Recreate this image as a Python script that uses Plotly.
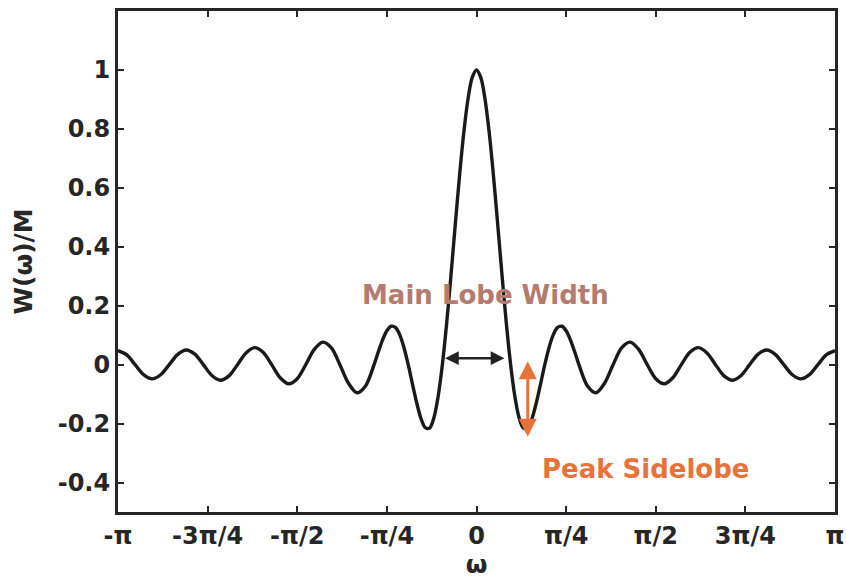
import plotly.graph_objects as go

# omega in units of pi
omega_over_pi = [
    -1.0, -0.9762, -0.9524, -0.9286, -0.9048, -0.8810, -0.8571, -0.8333, -0.8095, -0.7857,
    -0.7619, -0.7381, -0.7143, -0.6905, -0.6667, -0.6429, -0.6190, -0.5952, -0.5714, -0.5476,
    -0.5238, -0.5, -0.4762, -0.4524, -0.4286, -0.4048, -0.3810, -0.3571, -0.3333, -0.3095,
    -0.2857, -0.2738, -0.2619, -0.25, -0.2381, -0.2262, -0.2143, -0.2024, -0.1905, -0.1786,
    -0.1667, -0.1548, -0.1429, -0.1310, -0.1190, -0.1071, -0.0952, -0.0833, -0.0714, -0.0595,
    -0.0476, -0.0357, -0.0238, -0.0119, 0.0,
    0.0119, 0.0238, 0.0357, 0.0476, 0.0595, 0.0714, 0.0833, 0.0952, 0.1071, 0.1190,
    0.1310, 0.1429, 0.1548, 0.1667, 0.1786, 0.1905, 0.2024, 0.2143, 0.2262, 0.2381,
    0.25, 0.2619, 0.2738, 0.2857,
    0.3095, 0.3333, 0.3571, 0.3810, 0.4048, 0.4286, 0.4524, 0.4762,
    0.5, 0.5238, 0.5476, 0.5714, 0.5952, 0.6190, 0.6429, 0.6667, 0.6905, 0.7143,
    0.7381, 0.7619, 0.7857, 0.8095, 0.8333, 0.8571, 0.8810, 0.9048, 0.9286, 0.9524,
    0.9762, 1.0,
]
w_over_m = [
    0.0476, 0.0337, 0.0, -0.0339, -0.0482, -0.0343, 0.0, 0.0349, 0.0498, 0.0357,
    0.0, -0.0367, -0.0529, -0.0381, 0.0, 0.0398, 0.0576, 0.0418, 0.0, -0.0444,
    -0.0650, -0.0476, 0.0, 0.0516, 0.0764, 0.0567, 0.0, -0.0633, -0.0952, -0.0721,
    0.0, 0.0437, 0.0842, 0.1150, 0.1303, 0.1265, 0.1019, 0.0583, 0.0, -0.0658,
    -0.1301, -0.1828, -0.2140, -0.2154, -0.1811, -0.1088, 0.0, 0.1396, 0.3007, 0.4712,
    0.6372, 0.7846, 0.9006, 0.9745, 1.0,
    0.9745, 0.9006, 0.7846, 0.6372, 0.4712, 0.3007, 0.1396, 0.0, -0.1088, -0.1811,
    -0.2154, -0.2140, -0.1828, -0.1301, -0.0658, 0.0, 0.0583, 0.1019, 0.1265, 0.1303,
    0.1150, 0.0842, 0.0437, 0.0,
    -0.0721, -0.0952, -0.0633, 0.0, 0.0567, 0.0764, 0.0516, 0.0,
    -0.0476, -0.0650, -0.0444, 0.0, 0.0418, 0.0576, 0.0398, 0.0, -0.0381, -0.0529,
    -0.0367, 0.0, 0.0357, 0.0498, 0.0349, 0.0, -0.0343, -0.0482, -0.0339, 0.0,
    0.0337, 0.0476,
]

x_tick_vals = [-1, -0.75, -0.5, -0.25, 0, 0.25, 0.5, 0.75, 1]
x_tick_text = ["-π", "-3π/4", "-π/2", "-π/4", "0", "π/4", "π/2", "3π/4", "π"]
y_tick_vals = [-0.4, -0.2, 0, 0.2, 0.4, 0.6, 0.8, 1]
y_tick_text = ["-0.4", "-0.2", "0", "0.2", "0.4", "0.6", "0.8", "1"]

FONT = "DejaVu Sans"
AXC = "#262626"

fig = go.Figure()
fig.add_trace(go.Scatter(
    x=omega_over_pi, y=w_over_m, mode="lines",
    line=dict(color="#1a1a1a", width=3.4, shape="spline", smoothing=0.9),
    hoverinfo="skip", showlegend=False,
))

axis_common = dict(
    showgrid=False, zeroline=False, showline=True, linecolor=AXC, linewidth=3,
    mirror="allticks", ticks="inside", ticklen=6, tickwidth=2, tickcolor=AXC,
    ticklabeloverflow="allow",
    tickfont=dict(family=FONT, size=24, color=AXC, weight="bold"),
)

fig.update_layout(
    width=846, height=583,
    margin=dict(l=118, r=11, t=11, b=71, autoexpand=False),
    paper_bgcolor="white", plot_bgcolor="white",
    font=dict(family=FONT, color=AXC),
    xaxis=dict(range=[-1, 1], tickvals=x_tick_vals, ticktext=x_tick_text,
               title=dict(text="ω", font=dict(family=FONT, size=25, color=AXC, weight="bold"), standoff=2),
               **axis_common),
    yaxis=dict(range=[-0.5, 1.2], tickvals=y_tick_vals, ticktext=y_tick_text,
               title=dict(text="W(ω)/M", font=dict(family=FONT, size=25, color=AXC, weight="bold"), standoff=18),
               **axis_common),
)

# Main lobe width double arrow
fig.add_annotation(x=0.078, y=0.022, ax=-0.092, ay=0.022, xref="x", yref="y", axref="x", ayref="y",
                   text="", showarrow=True, arrowhead=2, arrowside="end+start",
                   arrowsize=1.1, arrowwidth=2.5, arrowcolor="#222222")
fig.add_annotation(x=0.025, y=0.237, xref="x", yref="y", text="Main Lobe Width",
                   showarrow=False, font=dict(family=FONT, size=26, color="#b57a70", weight="bold"))

# Peak sidelobe double arrow
fig.add_annotation(x=0.143, y=-0.245, ax=0.143, ay=0.017, xref="x", yref="y", axref="x", ayref="y",
                   text="", showarrow=True, arrowhead=2, arrowside="end+start",
                   arrowsize=1.2, arrowwidth=3, arrowcolor="#e8733a")
fig.add_annotation(x=0.47, y=-0.353, xref="x", yref="y", text="Peak Sidelobe",
                   showarrow=False, font=dict(family=FONT, size=26, color="#e8733a", weight="bold"))

fig.write_html("out.html")
